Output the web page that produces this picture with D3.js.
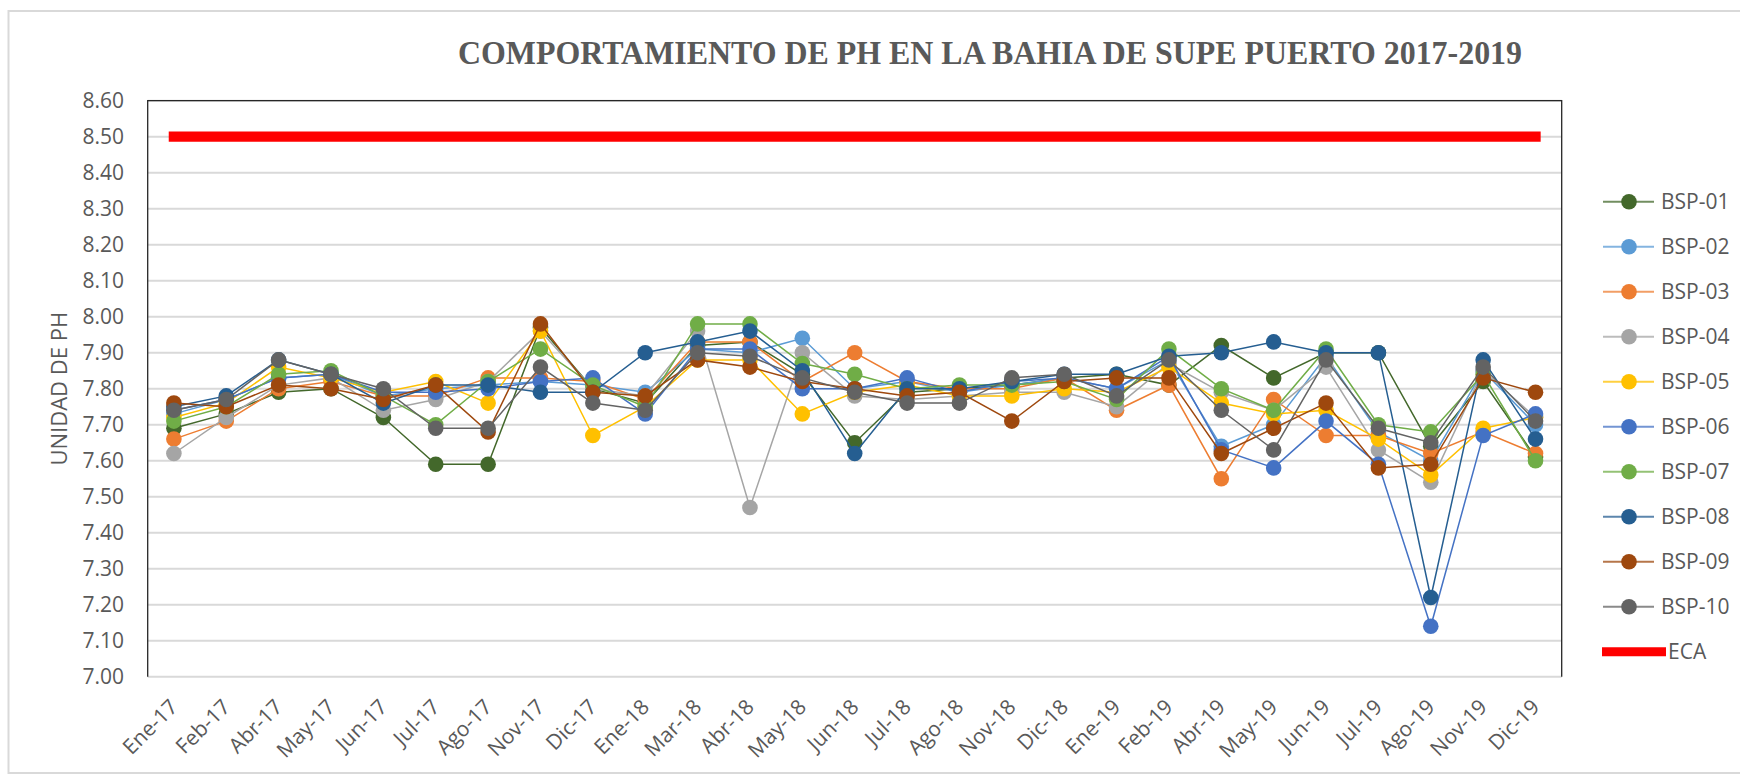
<!DOCTYPE html>
<html>
<head>
<meta charset="utf-8">
<script src="https://cdn.jsdelivr.net/npm/d3@7"></script>
<style>
  body { margin: 0; background: #fff; }
  text { font-family: "Open Sans", sans-serif; fill: #595959; }
</style>
</head>
<body>
<svg id="chart"></svg>
<script>
// month labels
const categories = ["Ene-17","Feb-17","Abr-17","May-17","Jun-17","Jul-17","Ago-17","Nov-17","Dic-17",
  "Ene-18","Mar-18","Abr-18","May-18","Jun-18","Jul-18","Ago-18","Nov-18","Dic-18",
  "Ene-19","Feb-19","Abr-19","May-19","Jun-19","Jul-19","Ago-19","Nov-19","Dic-19"];

const seriesNames = ["BSP-01","BSP-02","BSP-03","BSP-04","BSP-05","BSP-06","BSP-07","BSP-08","BSP-09","BSP-10"];
const seriesColors = ["#43682b","#5b9bd5","#ed7d31","#a5a5a5","#ffc000","#4472c4","#70ad47","#255e91","#9e480e","#636363"];

const bsp01 = [7.69,7.73,7.79,7.80,7.72,7.59,7.59,7.97,7.80,7.76,7.92,7.93,7.84,7.65,7.79,7.80,7.81,7.83,7.84,7.81,7.92,7.83,7.90,7.90,7.64,7.82,7.61];
const bsp02 = [7.73,7.77,7.83,7.84,7.78,7.80,7.81,7.82,7.81,7.79,7.91,7.90,7.94,7.80,7.82,7.79,7.81,7.83,7.80,7.88,7.64,7.70,7.89,7.68,7.60,7.85,7.70];
const bsp03 = [7.66,7.71,7.80,7.82,7.78,7.78,7.83,7.83,7.82,7.77,7.93,7.93,7.82,7.90,7.82,7.80,7.80,7.83,7.74,7.81,7.55,7.77,7.67,7.67,7.62,7.68,7.62];
const bsp04 = [7.62,7.72,7.81,7.83,7.74,7.77,7.82,7.96,7.80,7.78,7.96,7.47,7.90,7.78,7.77,7.78,7.79,7.79,7.75,7.87,7.79,7.74,7.86,7.63,7.54,7.85,7.72];
const bsp05 = [7.72,7.76,7.86,7.83,7.79,7.82,7.76,7.96,7.67,7.75,7.88,7.88,7.73,7.79,7.81,7.78,7.78,7.80,7.79,7.86,7.76,7.73,7.74,7.66,7.56,7.69,7.72];
const bsp06 = [7.74,7.77,7.83,7.84,7.79,7.79,7.80,7.82,7.83,7.73,7.91,7.91,7.80,7.80,7.83,7.79,7.82,7.83,7.80,7.89,7.63,7.58,7.71,7.59,7.14,7.67,7.73];
const bsp07 = [7.71,7.75,7.84,7.85,7.78,7.70,7.82,7.91,7.81,7.75,7.98,7.98,7.87,7.84,7.80,7.81,7.81,7.82,7.77,7.91,7.80,7.74,7.91,7.70,7.68,7.84,7.60];
const bsp08 = [7.75,7.78,7.88,7.84,7.76,7.81,7.81,7.79,7.79,7.90,7.93,7.96,7.85,7.62,7.80,7.80,7.82,7.84,7.84,7.89,7.90,7.93,7.90,7.90,7.22,7.88,7.66];
const bsp09 = [7.76,7.75,7.81,7.80,7.77,7.81,7.68,7.98,7.79,7.78,7.88,7.86,7.82,7.80,7.78,7.79,7.71,7.82,7.83,7.83,7.62,7.69,7.76,7.58,7.59,7.83,7.79];
const bsp10 = [7.74,7.77,7.88,7.84,7.80,7.69,7.69,7.86,7.76,7.74,7.90,7.89,7.83,7.79,7.76,7.76,7.83,7.84,7.78,7.88,7.74,7.63,7.88,7.69,7.65,7.86,7.71];
const eca = categories.map(() => 8.5);

const yTicks = [7.0,7.1,7.2,7.3,7.4,7.5,7.6,7.7,7.8,7.9,8.0,8.1,8.2,8.3,8.4,8.5,8.6];

const allSeries = [bsp01,bsp02,bsp03,bsp04,bsp05,bsp06,bsp07,bsp08,bsp09,bsp10];

const width = 1740, height = 778;
const plot = { left: 147.7, right: 1561.7, top: 100.7, bottom: 676.7 };

const svg = d3.select("#chart").attr("width", width).attr("height", height);

// chart area border
svg.append("rect")
  .attr("x", 8.5).attr("y", 11).attr("width", 1800).attr("height", 762)
  .attr("fill", "none").attr("stroke", "#d9d9d9").attr("stroke-width", 2);

// title
svg.append("text")
  .attr("x", 990).attr("y", 64)
  .attr("text-anchor", "middle")
  .attr("textLength", 1064).attr("lengthAdjust", "spacingAndGlyphs")
  .style("font-family", "'Liberation Serif', 'Times New Roman', serif")
  .style("font-weight", "bold").style("font-size", "34px")
  .text("COMPORTAMIENTO DE PH EN LA BAHIA DE SUPE PUERTO 2017-2019");

const x = d3.scaleBand().domain(categories).range([plot.left, plot.right]);
const y = d3.scaleLinear().domain([7.0, 8.6]).range([plot.bottom, plot.top]);
const cx = d => x(d) + x.bandwidth() / 2;

// gridlines
svg.append("g").selectAll("line").data(yTicks).join("line")
  .attr("x1", plot.left).attr("x2", plot.right)
  .attr("y1", d => y(d)).attr("y2", d => y(d))
  .attr("stroke", "#d9d9d9").attr("stroke-width", 2);

// frame (left, top, right)
svg.append("path")
  .attr("d", `M${plot.left},${plot.bottom}V${plot.top}H${plot.right}V${plot.bottom}`)
  .attr("fill", "none").attr("stroke", "#262626").attr("stroke-width", 1.3);

// y axis labels
const yAxis = d3.axisLeft(y).tickValues(yTicks).tickFormat(d3.format(".2f")).tickSize(0).tickPadding(0);
const gy = svg.append("g").attr("transform", `translate(124,0)`).call(yAxis);
gy.select(".domain").remove();
gy.selectAll("text").style("font-size", "21px").attr("fill", "#595959")
  .style("font-family", "'Open Sans', sans-serif");

// y axis title
svg.append("text")
  .attr("transform", `translate(67,${(plot.top + plot.bottom) / 2}) rotate(-90)`)
  .attr("text-anchor", "middle")
  .style("font-size", "22px")
  .text("UNIDAD DE PH");

// x axis labels
svg.append("g").selectAll("text").data(categories).join("text")
  .attr("transform", d => `translate(${cx(d)},703) rotate(-45)`)
  .attr("text-anchor", "end").attr("dy", "0.35em")
  .style("font-size", "21px")
  .text(d => d);

// ECA line
const line = d3.line().x((d, i) => cx(categories[i])).y(d => y(d));
svg.append("path").datum(eca)
  .attr("d", line).attr("fill", "none")
  .attr("stroke", "#ff0000").attr("stroke-width", 10.3).attr("stroke-linecap", "square");

// series
allSeries.forEach((vals, s) => {
  const g = svg.append("g");
  g.append("path").datum(vals)
    .attr("d", line).attr("fill", "none")
    .attr("stroke", seriesColors[s]).attr("stroke-width", 1.5);
  g.selectAll("circle").data(vals).join("circle")
    .attr("cx", (d, i) => cx(categories[i])).attr("cy", d => y(d))
    .attr("r", 7.8).attr("fill", seriesColors[s]);
});

// legend
const legY = i => 201.7 + i * 45;
const leg = svg.append("g");
seriesNames.forEach((name, i) => {
  leg.append("line")
    .attr("x1", 1603).attr("x2", 1654).attr("y1", legY(i)).attr("y2", legY(i))
    .attr("stroke", seriesColors[i]).attr("stroke-width", 2).attr("stroke-opacity", 0.75);
  leg.append("circle")
    .attr("cx", 1629).attr("cy", legY(i)).attr("r", 7.8).attr("fill", seriesColors[i]);
  leg.append("text")
    .attr("x", 1661).attr("y", legY(i)).attr("dy", "0.35em")
    .style("font-size", "21px").text(name);
});
leg.append("line")
  .attr("x1", 1602).attr("x2", 1666).attr("y1", legY(10)).attr("y2", legY(10))
  .attr("stroke", "#ff0000").attr("stroke-width", 9);
leg.append("text")
  .attr("x", 1668).attr("y", legY(10)).attr("dy", "0.35em")
  .style("font-size", "21px").text("ECA");
</script>
</body>
</html>
